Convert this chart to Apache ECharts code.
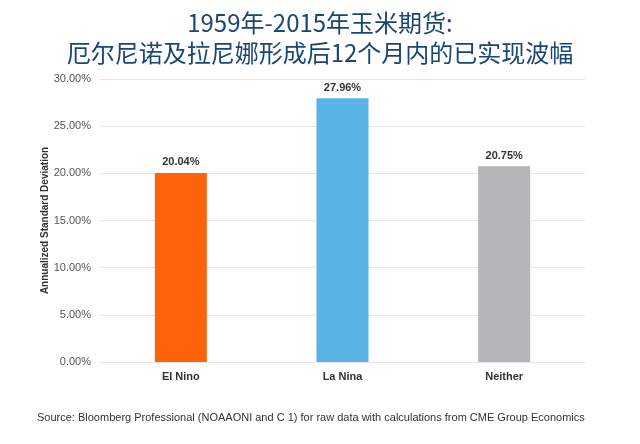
<!DOCTYPE html>
<html>
<head>
<meta charset="utf-8">
<script src="https://cdn.jsdelivr.net/npm/echarts@6/dist/echarts.min.js"></script>
<style>
html, body { margin: 0; padding: 0; background: #fff; }
#main { width: 640px; height: 444px; }
</style>
</head>
<body>
<div id="main"></div>
<script>
// 数据
var categories = ['El Nino', 'La Nina', 'Neither'];
var values = [20.04, 27.96, 20.75];
var barColors = ['#ff6209', '#5ab3e6', '#b6b6b8'];

var myChart = echarts.init(document.getElementById('main'));

myChart.setOption({
    backgroundColor: '#fff',
    title: {
        text: '1959年-2015年玉米期货:\n厄尔尼诺及拉尼娜形成后12个月内的已实现波幅',
        left: 'center',
        top: 3,
        textStyle: {
            color: '#1b4672',
            fontSize: 24,
            fontWeight: 'normal',
            lineHeight: 30,
            fontFamily: 'Noto Sans CJK SC'
        }
    },
    graphic: [{
        type: 'text',
        left: 37,
        top: 412,
        style: {
            text: 'Source: Bloomberg Professional (NOAAONI and C 1) for raw data with calculations from CME Group Economics',
            fill: '#333',
            font: '11px "Liberation Sans", Arial'
        }
    }],
    grid: {
        left: 100,
        right: 55,
        top: 79,
        bottom: 82
    },
    xAxis: {
        type: 'category',
        data: categories,
        axisLine: { lineStyle: { color: '#e6e6ec', width: 1 } },
        axisTick: { show: false },
        axisLabel: {
            color: '#333',
            fontWeight: 'bold',
            fontSize: 11,
            margin: 9,
            fontFamily: 'Liberation Sans'
        }
    },
    yAxis: {
        type: 'value',
        min: 0,
        max: 30,
        interval: 5,
        name: 'Annualized Standard Deviation',
        nameLocation: 'middle',
        nameGap: 50,
        nameMoveOverlap: false,
        nameTextStyle: {
            color: '#333',
            fontWeight: 'bold',
            fontSize: 10,
            fontFamily: 'Liberation Sans'
        },
        axisLine: { show: false },
        axisTick: { show: false },
        splitLine: { lineStyle: { color: '#e6e6ec' } },
        axisLabel: {
            color: '#555',
            fontSize: 11,
            margin: 9,
            fontFamily: 'Liberation Sans',
            formatter: function (v) { return v.toFixed(2) + '%'; }
        }
    },
    series: [{
        type: 'bar',
        barWidth: 52,
        data: values.map(function (v, i) {
            return { value: v, itemStyle: { color: barColors[i] } };
        }),
        label: {
            show: true,
            position: 'top',
            distance: 5,
            color: '#333',
            fontWeight: 'bold',
            fontSize: 11,
            fontFamily: 'Liberation Sans',
            formatter: function (p) { return p.value.toFixed(2) + '%'; }
        }
    }]
});
</script>
</body>
</html>
